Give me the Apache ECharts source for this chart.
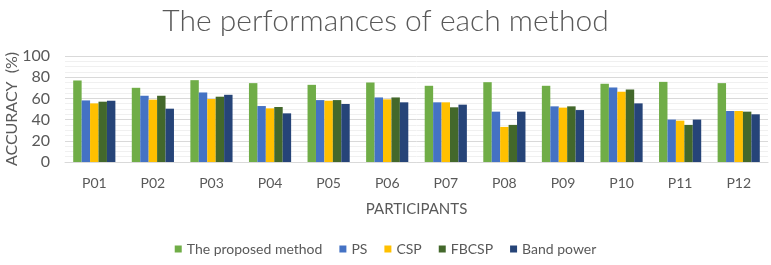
<!DOCTYPE html>
<html><head><meta charset="utf-8">
<script src="https://cdn.jsdelivr.net/npm/echarts@6/dist/echarts.min.js"></script>
<style>html,body{margin:0;padding:0;background:#fff}#c{width:771px;height:265px}</style>
</head><body><div id="c"></div>
<script>
const categories = ['P01','P02','P03','P04','P05','P06','P07','P08','P09','P10','P11','P12'];
const seriesNames = ['The proposed method','PS','CSP','FBCSP','Band power'];
const proposed = [76.9, 70.0, 77.2, 74.4, 72.8, 75.0, 71.9, 75.3, 71.9, 73.8, 75.6, 74.4];
const ps       = [58.1, 62.5, 65.6, 52.8, 58.4, 60.9, 56.3, 47.5, 52.5, 70.3, 40.0, 48.1];
const csp      = [55.3, 58.8, 59.4, 50.6, 57.8, 59.1, 56.3, 33.1, 51.3, 66.3, 39.0, 48.1];
const fbcsp    = [56.9, 62.5, 61.6, 51.9, 58.4, 60.9, 51.6, 35.0, 52.5, 68.4, 35.0, 47.5];
const bandPower= [57.8, 50.3, 63.4, 45.9, 54.7, 56.3, 54.1, 47.5, 49.0, 55.3, 40.0, 45.0];
const yTicks = [0, 20, 40, 60, 80, 100];

const colors = ['#70AD47','#4472C4','#FFC000','#43682B','#264478'];
const values = [proposed, ps, csp, fbcsp, bandPower];
const txt = '#595959';
const font = 'Lato';

const chart = echarts.init(document.getElementById('c'), null, {renderer:'canvas'});
chart.setOption({
  animation:false,
  color: colors,
  title:{text:'The performances of each method', left:'center', top:1,
    textStyle:{color:txt, fontSize:30, fontWeight:300, fontFamily:font}},
  legend:{bottom:4, left:'center', itemWidth:7, itemHeight:7, itemGap:17,
    icon:'rect', textStyle:{color:txt, fontSize:14, fontFamily:font}, data:seriesNames},
  grid:{left:65, right:3, top:56, bottom:103, outerBoundsMode:'none', containLabel:false},
  xAxis:{type:'category', data:categories,
    name:'PARTICIPANTS', nameLocation:'middle', nameGap:40, nameMoveOverlap:false,
    nameTextStyle:{color:txt, fontSize:15, fontFamily:font},
    axisLine:{lineStyle:{color:'#d9d9d9'}}, axisTick:{show:false},
    axisLabel:{color:txt, fontSize:14, fontFamily:font, margin:14}},
  yAxis:{type:'value', min:yTicks[0], max:yTicks[yTicks.length-1], interval:20,
    name:'ACCURACY  (%)', nameLocation:'middle', nameGap:45, nameMoveOverlap:false,
    nameTextStyle:{color:txt, fontSize:16, fontFamily:font},
    axisLabel:{color:txt, fontSize:16, fontFamily:font, margin:15},
    splitLine:{lineStyle:{color:'#d9d9d9'}},
    minorTick:{show:false, splitNumber:4},
    minorSplitLine:{show:true, lineStyle:{color:'#f0f0f0'}}},
  series: seriesNames.map((n,i)=>({name:n, type:'bar', data:values[i],
    barGap:'0%', barCategoryGap:'28%'}))
});
</script></body></html>
